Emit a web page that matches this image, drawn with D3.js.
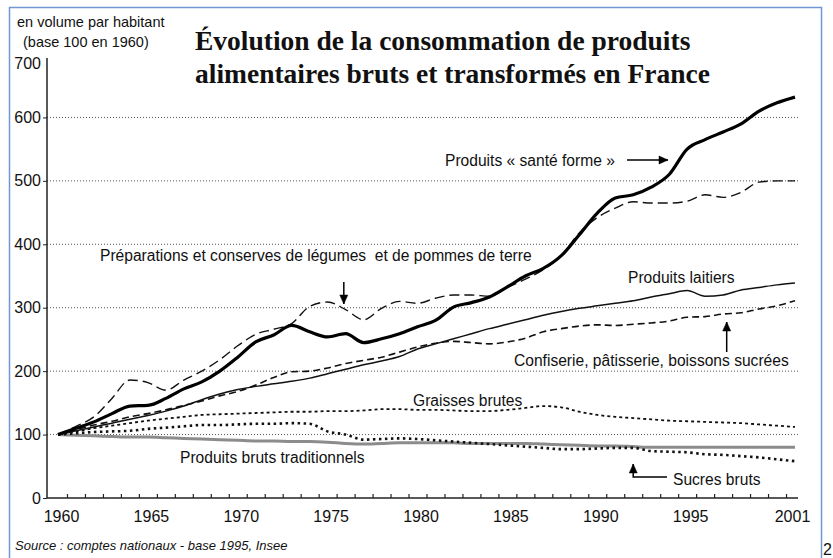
<!DOCTYPE html>
<html>
<head>
<meta charset="utf-8">
<script src="https://cdn.jsdelivr.net/npm/d3@7"></script>
<style>
    body { margin: 0; background: #fff; }
    text { font-family: "Liberation Sans", Arial, sans-serif; fill: #111; }
</style>
</head>
<body>
<div id="chart"></div>
<script>
var years = [1960, 1961, 1962, 1963, 1964, 1965, 1966, 1967, 1968, 1969,
    1970, 1971, 1972, 1973, 1974, 1975, 1976, 1977, 1978, 1979,
    1980, 1981, 1982, 1983, 1984, 1985, 1986, 1987, 1988, 1989,
    1990, 1991, 1992, 1993, 1994, 1995, 1996, 1997, 1998, 1999,
    2000, 2001]

var santeForme = [100, 110, 120, 133, 145, 146, 157, 172, 183, 200,
    222, 246, 257, 272, 262, 254, 259, 245, 251, 259,
    270, 280, 301, 308, 317, 333, 350, 362, 382, 415,
    449, 473, 478, 490, 510, 550, 565, 577, 590, 610,
    623, 632]

var preparations = [100, 113, 128, 157, 186, 182, 170, 186, 200, 218,
    240, 258, 266, 275, 302, 309, 297, 281, 299, 310,
    307, 315, 320, 320, 318, 332, 345, 360, 382, 418,
    442, 457, 467, 465, 465, 468, 478, 474, 482, 498,
    500, 500]

var laitiers = [100, 106, 112, 118, 124, 130, 137, 145, 155, 164,
    171, 176, 180, 184, 189, 196, 203, 210, 216, 223,
    235, 243, 251, 259, 267, 274, 281, 288, 294, 299,
    303, 307, 311, 317, 322, 327, 318, 320, 328, 332,
    336, 339]

var confiserie = [100, 108, 115, 121, 128, 133, 139, 146, 153, 161,
    168, 178, 190, 199, 200, 205, 212, 217, 222, 230,
    238, 244, 247, 245, 243, 246, 252, 262, 267, 271,
    273, 272, 274, 276, 279, 285, 286, 290, 292, 298,
    303, 311]

var graisses = [100, 105, 110, 114, 118, 122, 125, 128, 131, 132,
    133, 134, 135, 136, 136, 137, 137, 138, 140, 140,
    139, 139, 138, 137, 137, 139, 142, 145, 143, 136,
    131, 128, 126, 124, 122, 121, 120, 119, 118, 116,
    114, 112]

var sucres = [100, 102, 104, 105, 106, 109, 111, 113, 115, 115,
    116, 117, 117, 118, 117, 105, 100, 92, 93, 94,
    93, 91, 89, 87, 85, 83, 81, 79, 77, 77,
    78, 79, 79, 74, 73, 72, 69, 68, 66, 64,
    61, 58]

var traditionnels = [100, 99, 98, 97, 96, 96, 95, 94, 93, 92,
    91, 90, 90, 89, 89, 88, 86, 85, 86, 87,
    87, 87, 87, 86, 86, 86, 86, 85, 84, 83,
    82, 82, 81, 80, 80, 80, 80, 80, 80, 80,
    80, 80]

var yTicks = [0, 100, 200, 300, 400, 500, 600, 700]
var gridValues = [100, 200, 300, 400, 500, 600]
var xLabels = [1960, 1965, 1970, 1975, 1980, 1985, 1990, 1995, 2001]

var width = 833
var height = 558

var svg = d3.select("#chart")
    .append("svg")
    .attr("width", width)
    .attr("height", height)

// blue frame of the page
svg.append("rect")
    .attr("x", 9.5).attr("y", 7.5)
    .attr("width", 812).attr("height", 570)
    .attr("fill", "none")
    .attr("stroke", "#6f97d2")
    .attr("stroke-width", 1.5)

var x = d3.scaleLinear().domain([1960, 2001]).range([58, 795])
var y = d3.scaleLinear().domain([0, 700]).range([498, 54])

// dotted grid
svg.append("g")
    .selectAll("line")
    .data(gridValues)
    .enter()
    .append("line")
    .attr("x1", 47).attr("x2", 798)
    .attr("y1", (d) => y(d)).attr("y2", (d) => y(d))
    .attr("stroke", "#555")
    .attr("stroke-width", 1)
    .attr("stroke-dasharray", "1,2")

// y axis
var yAxis = svg.append("g")
    .attr("transform", "translate(47,0)")
    .call(d3.axisLeft(y).tickValues(yTicks).tickSize(4).tickPadding(2))
yAxis.select(".domain").attr("stroke", "#222").attr("stroke-width", 1.5)
    .attr("d", "M0," + y(0) + "V" + 58)
yAxis.selectAll("line").attr("stroke", "#222")
yAxis.selectAll(".tick").filter((d) => d == 700).select("line").remove()
yAxis.selectAll("text")
    .style("font-size", "16px")
    .style("font-family", "Liberation Sans, Arial, sans-serif")
    .attr("fill", "#111")
// the top label sits a little under the end of the axis
yAxis.selectAll(".tick").filter((d) => d == 700).select("text").attr("dy", "0.32em").attr("y", 9)

// x axis: line and small ticks between the years
var tickYears = years.slice(0, years.length - 1).map((d) => d + 0.5)
var xAxis = svg.append("g")
    .attr("transform", "translate(0," + y(0) + ")")
    .call(d3.axisBottom(x).tickValues(tickYears).tickSize(-4).tickFormat(""))
xAxis.select(".domain").attr("stroke", "#222").attr("stroke-width", 1.5)
    .attr("d", "M47,0H798")
xAxis.selectAll("line").attr("stroke", "#222").attr("stroke-width", 1.2)

var xLab = svg.append("g")
    .attr("transform", "translate(3," + y(0) + ")")
    .call(d3.axisBottom(x).tickValues(xLabels).tickSize(0).tickPadding(13).tickFormat(d3.format("d")))
xLab.select(".domain").remove()
xLab.selectAll("text")
    .style("font-size", "16px")
    .style("font-family", "Liberation Sans, Arial, sans-serif")
    .attr("fill", "#111")
xLab.selectAll(".tick").filter((d) => d == 2001).select("text").attr("dx", -6)

// series
var series = [
    {name: "traditionnels", values: traditionnels, color: "#8c8c8c", w: 3, dash: null},
    {name: "sucres", values: sucres, color: "#111", w: 2.6, dash: "2.5,3.5"},
    {name: "graisses", values: graisses, color: "#111", w: 1.8, dash: "3,3"},
    {name: "confiserie", values: confiserie, color: "#111", w: 1.6, dash: "7,4"},
    {name: "laitiers", values: laitiers, color: "#111", w: 1.5, dash: null},
    {name: "preparations", values: preparations, color: "#111", w: 1.4, dash: "10,5"},
    {name: "santeForme", values: santeForme, color: "#000", w: 3.2, dash: null}
]

var line = d3.line()
    .x((d, i) => x(years[i]))
    .y((d) => y(d))
    .curve(d3.curveMonotoneX)

svg.append("g")
    .selectAll("path")
    .data(series)
    .enter()
    .append("path")
    .attr("d", (d) => line(d.values))
    .attr("fill", "none")
    .attr("stroke", (d) => d.color)
    .attr("stroke-width", (d) => d.w)
    .attr("stroke-dasharray", (d) => d.dash)
    .attr("stroke-linejoin", "round")

// titles
svg.append("text")
    .attr("x", 17).attr("y", 27)
    .style("font-size", "14.5px")
    .text("en volume par habitant")
svg.append("text")
    .attr("x", 23).attr("y", 47)
    .style("font-size", "14.5px")
    .text("(base 100 en 1960)")

svg.append("text")
    .attr("x", 195).attr("y", 50)
    .style("font-family", "Liberation Serif, Times New Roman, serif")
    .style("font-weight", "bold")
    .style("font-size", "27.5px")
    .text("Évolution de la consommation de produits")
svg.append("text")
    .attr("x", 195).attr("y", 83)
    .style("font-family", "Liberation Serif, Times New Roman, serif")
    .style("font-weight", "bold")
    .style("font-size", "27.5px")
    .text("alimentaires bruts et transformés en France")

svg.append("text")
    .attr("x", 15).attr("y", 550)
    .style("font-size", "13px")
    .style("font-style", "italic")
    .text("Source : comptes nationaux - base 1995, Insee")

svg.append("text")
    .attr("x", 823).attr("y", 555)
    .style("font-size", "16px")
    .text("2")

// annotations
var labels = [
    {t: "Produits « santé forme »", x: 445, y: 166},
    {t: "Préparations et conserves de légumes  et de pommes de terre", x: 100, y: 261},
    {t: "Produits laitiers", x: 628, y: 283},
    {t: "Confiserie, pâtisserie, boissons sucrées", x: 514, y: 366},
    {t: "Graisses brutes", x: 413, y: 406},
    {t: "Produits bruts traditionnels", x: 180, y: 463},
    {t: "Sucres bruts", x: 673, y: 485}
]

svg.append("g")
    .selectAll("text")
    .data(labels)
    .enter()
    .append("text")
    .attr("x", (d) => d.x)
    .attr("y", (d) => d.y)
    .style("font-size", "15.6px")
    .style("white-space", "pre")
    .text((d) => d.t)

var arrows = svg.append("g")
    .attr("stroke", "#000")
    .attr("stroke-width", 1.5)
    .attr("fill", "#000")

function arrow(points, dir) {
    arrows.append("path")
        .attr("fill", "none")
        .attr("d", d3.line()(points))
    var p = points[points.length - 1]
    var head
    if (dir == "right") head = [[p[0], p[1]], [p[0] - 9, p[1] - 4], [p[0] - 9, p[1] + 4]]
    if (dir == "down") head = [[p[0], p[1]], [p[0] - 4, p[1] - 9], [p[0] + 4, p[1] - 9]]
    if (dir == "up") head = [[p[0], p[1]], [p[0] - 4, p[1] + 9], [p[0] + 4, p[1] + 9]]
    arrows.append("path")
        .attr("stroke-width", 0.5)
        .attr("d", d3.line()(head) + "Z")
}

arrow([[627, 160], [668, 160]], "right")
arrow([[x(1975.9), 282], [x(1975.9), 304]], "down")
arrow([[x(1997.2), 352], [x(1997.2), 322]], "up")
arrow([[667, 477], [x(1992), 477], [x(1992), 464]], "up")
</script>
</body>
</html>
